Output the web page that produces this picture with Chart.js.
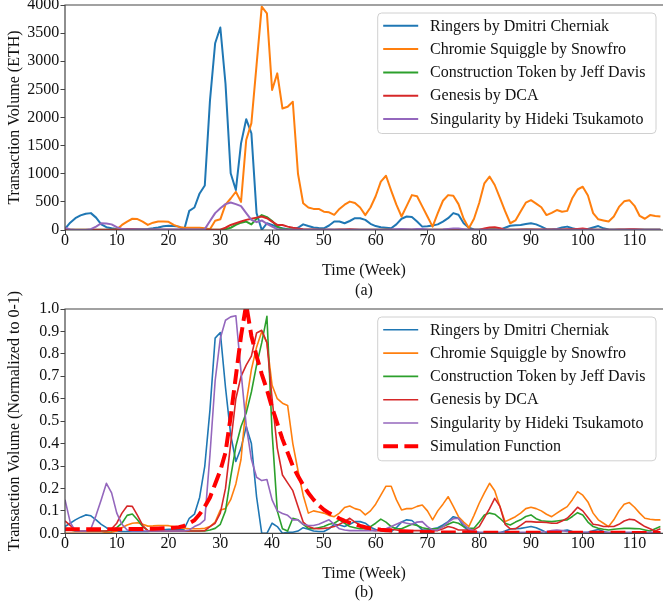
<!DOCTYPE html>
<html>
<head>
<meta charset="utf-8">
<script src="https://cdn.jsdelivr.net/npm/chart.js@4.4.1/dist/chart.umd.min.js"></script>
<style>
  html, body { margin: 0; padding: 0; background: #fff; overflow: hidden; }
  #wrap { position: relative; width: 663px; height: 606px; overflow: hidden; background: #fff; }
  #topChart { position: absolute; left: 0; top: -20px; }
  #botChart { position: absolute; left: 0; top: 270px; }
</style>
</head>
<body>
<div id="wrap">
  <canvas id="topChart" width="663" height="320"></canvas>
  <canvas id="botChart" width="663" height="336"></canvas>
</div>
<script>
// weeks 0..115
const WEEKS = Array.from({ length: 116 }, (_, i) => i);

const NAMES = [
  'Ringers by Dmitri Cherniak',
  'Chromie Squiggle by Snowfro',
  'Construction Token by Jeff Davis',
  'Genesis by DCA',
  'Singularity by Hideki Tsukamoto'
];
const SIM_NAME = 'Simulation Function';
const COLORS = ['#1f77b4', '#ff7f0e', '#2ca02c', '#d62728', '#9467bd'];

// (a) transaction volume, ETH
const TOP_RINGERS = [
  20, 130, 210, 260, 290, 300, 220, 100, 50, 30,
  20, 15, 15, 15, 15, 15, 20, 30, 45, 65,
  75, 70, 60, 0, 340, 400, 650, 790, 2300, 3320,
  3600, 2600, 1010, 710, 1540, 1970, 1720, 300, 0, 120,
  90, 50, 30, 15, 10, 40, 100, 70, 45, 35,
  30, 80, 150, 150, 120, 160, 210, 210, 180, 110,
  70, 50, 40, 30, 100, 200, 240, 230, 150, 60,
  65, 80, 100, 150, 210, 300, 270, 120, 40, 10,
  5, 5, 5, 5, 5, 40, 75, 85, 90, 105,
  120, 100, 60, 15, 10, 20, 45, 60, 30, 10,
  10, 20, 45, 70, 30, 8, 5, 5, 5, 5,
  5, 5, 5, 5, 5, 5
];
const TOP_CHROMIE = [
  0, 0, 0, 0, 0, 0, 0, 0, 0, 0,
  10, 90, 150, 200, 195, 150, 90, 130, 150, 150,
  145, 90, 55, 40, 40, 40, 40, 30, 15, 165,
  190, 450, 560, 680, 500, 1600, 1900, 2935, 3970, 3850,
  2490, 2785, 2160, 2190, 2280, 1000, 475, 400, 375, 375,
  325, 315, 270, 375, 450, 505, 480, 400, 265, 400,
  600, 860, 965, 700, 450, 240, 430, 620, 600, 420,
  240, 60, 300, 520, 620, 610, 460, 200, 30, 200,
  480, 830, 950, 800, 570, 335, 120, 170, 330, 485,
  530, 470, 405, 265, 305, 355, 325, 340, 570, 720,
  770, 615, 300, 190, 170, 150, 240, 410, 510, 530,
  430, 250, 200, 265, 250, 240
];
const TOP_CONSTRUCTION = [
  5, 3, 3, 3, 3, 3, 3, 3, 3, 3,
  3, 3, 5, 5, 5, 3, 3, 3, 3, 3,
  3, 3, 3, 3, 3, 3, 3, 3, 3, 3,
  5, 15, 40, 90, 130, 150, 100, 200, 265, 230,
  160, 60, 20, 15, 10, 8, 5, 5, 5, 5,
  5, 5, 5, 5, 5, 5, 5, 5, 5, 5,
  5, 5, 10, 5, 5, 5, 5, 5, 5, 5,
  5, 5, 5, 5, 5, 5, 5, 5, 5, 5,
  5, 10, 15, 15, 10, 5, 5, 5, 5, 10,
  10, 5, 5, 5, 5, 5, 5, 5, 10, 15,
  10, 5, 5, 5, 5, 5, 5, 5, 5, 5,
  5, 5, 5, 5, 5, 5
];
const TOP_GENESIS = [
  5, 3, 3, 3, 3, 3, 3, 3, 3, 3,
  5, 10, 15, 15, 10, 5, 3, 3, 3, 3,
  3, 3, 3, 3, 3, 3, 3, 3, 3, 3,
  5, 40, 90, 120, 150, 180, 200, 220, 240, 210,
  150, 90, 90, 60, 40, 25, 15, 10, 8, 5,
  5, 5, 5, 8, 10, 15, 10, 5, 5, 5,
  5, 5, 5, 5, 5, 5, 5, 5, 5, 5,
  5, 5, 5, 5, 8, 8, 5, 5, 5, 5,
  5, 25, 45, 50, 30, 5, 5, 5, 8, 10,
  10, 10, 10, 10, 10, 10, 10, 12, 15, 20,
  25, 15, 8, 5, 5, 5, 5, 8, 10, 12,
  12, 8, 5, 5, 5, 5
];
const TOP_SINGULARITY = [
  40, 10, 0, 0, 0, 15, 60, 120, 115, 100,
  50, 20, 8, 8, 8, 8, 8, 8, 8, 8,
  8, 8, 8, 8, 8, 8, 8, 15, 160, 300,
  385, 460, 490, 460, 425, 300, 180, 140, 170, 110,
  60, 15, 5, 5, 5, 5, 5, 5, 5, 5,
  5, 10, 5, 5, 5, 5, 5, 5, 5, 5,
  5, 5, 5, 10, 15, 20, 15, 10, 20, 20,
  10, 5, 5, 10, 20, 25, 25, 15, 5, 5,
  5, 5, 5, 5, 5, 5, 5, 5, 5, 5,
  5, 5, 5, 5, 5, 8, 5, 5, 5, 5,
  5, 5, 5, 5, 5, 5, 5, 5, 5, 5,
  5, 5, 5, 5, 5, 5
];

// (b) normalised volume
const BOT_RINGERS = [
  0.03, 0.045, 0.06, 0.072, 0.082, 0.078, 0.06, 0.04, 0.025, 0.012,
  0.01, 0.008, 0.008, 0.008, 0.008, 0.008, 0.008, 0.01, 0.012, 0.016,
  0.018, 0.018, 0.016, 0.018, 0.067, 0.085, 0.16, 0.3, 0.55, 0.87,
  0.895, 0.65, 0.44, 0.32, 0.38, 0.476, 0.4, 0.163, 0.0, 0.0,
  0.045, 0.03, 0.0, 0.005, 0.005, 0.01, 0.025, 0.018, 0.01, 0.008,
  0.008, 0.02, 0.04, 0.037, 0.03, 0.04, 0.052, 0.052, 0.045, 0.027,
  0.017, 0.012, 0.01, 0.008, 0.025, 0.05, 0.06, 0.057, 0.037, 0.015,
  0.016, 0.02, 0.025, 0.037, 0.052, 0.074, 0.067, 0.03, 0.01, 0.003,
  0.002, 0.002, 0.002, 0.002, 0.002, 0.01, 0.019, 0.021, 0.022, 0.026,
  0.03, 0.025, 0.015, 0.004, 0.003, 0.005, 0.011, 0.015, 0.008, 0.003,
  0.003, 0.005, 0.011, 0.017, 0.008, 0.002, 0.001, 0.001, 0.001, 0.001,
  0.001, 0.001, 0.001, 0.001, 0.001, 0.001
];
const BOT_CHROMIE = [
  0.0, 0.0, 0.0, 0.0, 0.0, 0.0, 0.0, 0.0, 0.003, 0.005,
  0.01, 0.025, 0.037, 0.045, 0.047, 0.04, 0.032, 0.033, 0.035, 0.035,
  0.034, 0.03, 0.026, 0.022, 0.02, 0.02, 0.02, 0.022, 0.03, 0.05,
  0.104, 0.11, 0.15, 0.22, 0.33, 0.58, 0.73, 0.83, 0.9, 0.85,
  0.66, 0.6, 0.58, 0.57, 0.4, 0.28, 0.17, 0.09, 0.1, 0.095,
  0.09, 0.08, 0.074, 0.09, 0.115, 0.122, 0.11, 0.104, 0.082, 0.1,
  0.13, 0.17, 0.21, 0.21, 0.15, 0.104, 0.11, 0.11, 0.12, 0.126,
  0.1, 0.06, 0.1, 0.13, 0.163, 0.12, 0.074, 0.05, 0.03, 0.08,
  0.134, 0.18, 0.223, 0.19, 0.12, 0.052, 0.063, 0.074, 0.09, 0.11,
  0.116, 0.11, 0.1, 0.085, 0.074, 0.09, 0.105, 0.119, 0.15, 0.186,
  0.17, 0.14, 0.09, 0.06, 0.045, 0.03, 0.06, 0.1, 0.13, 0.137,
  0.116, 0.09, 0.067, 0.063, 0.06, 0.06
];
const BOT_CONSTRUCTION = [
  0.022, 0.015, 0.01, 0.01, 0.01, 0.01, 0.01, 0.01, 0.01, 0.012,
  0.025, 0.045, 0.08, 0.086, 0.06, 0.03, 0.012, 0.01, 0.01, 0.01,
  0.01, 0.01, 0.01, 0.01, 0.01, 0.01, 0.01, 0.01, 0.015, 0.022,
  0.04, 0.1, 0.25, 0.387, 0.476, 0.536, 0.63, 0.75, 0.85, 0.967,
  0.45, 0.1, 0.02, 0.01, 0.067, 0.06, 0.04, 0.022, 0.02, 0.025,
  0.03, 0.04, 0.045, 0.06, 0.045, 0.03, 0.025, 0.02, 0.02, 0.03,
  0.045, 0.063, 0.05, 0.03, 0.02, 0.02, 0.03, 0.04, 0.035, 0.025,
  0.02, 0.02, 0.02, 0.03, 0.04, 0.05, 0.045, 0.03, 0.022, 0.022,
  0.05, 0.082, 0.09, 0.085, 0.067, 0.045, 0.037, 0.05, 0.06, 0.075,
  0.082, 0.065, 0.056, 0.054, 0.052, 0.055, 0.058, 0.06, 0.075, 0.092,
  0.082, 0.05, 0.03, 0.022, 0.018, 0.015, 0.018, 0.02, 0.022, 0.022,
  0.021, 0.02, 0.015, 0.01, 0.02, 0.03
];
const BOT_GENESIS = [
  0.055, 0.035, 0.015, 0.01, 0.01, 0.01, 0.01, 0.01, 0.01, 0.02,
  0.045, 0.09, 0.122, 0.12, 0.08, 0.035, 0.012, 0.01, 0.01, 0.01,
  0.01, 0.01, 0.01, 0.01, 0.01, 0.01, 0.01, 0.012, 0.03, 0.045,
  0.09, 0.2, 0.4, 0.6, 0.7, 0.75, 0.79, 0.893, 0.905, 0.85,
  0.6, 0.38, 0.26, 0.225, 0.19, 0.12, 0.05, 0.03, 0.022, 0.02,
  0.022, 0.025, 0.03, 0.04, 0.052, 0.067, 0.05, 0.037, 0.02, 0.015,
  0.012, 0.015, 0.02, 0.018, 0.015, 0.012, 0.012, 0.012, 0.012, 0.012,
  0.012, 0.012, 0.012, 0.02, 0.03, 0.025, 0.015, 0.015, 0.015, 0.015,
  0.03, 0.07, 0.11, 0.156, 0.12, 0.04, 0.02, 0.02, 0.035, 0.052,
  0.052, 0.05, 0.05, 0.048, 0.045, 0.045, 0.055, 0.067, 0.09, 0.116,
  0.1, 0.07, 0.04, 0.037, 0.03, 0.03, 0.03, 0.04, 0.055, 0.063,
  0.06, 0.045, 0.03, 0.02, 0.01, 0.02
];
const BOT_SINGULARITY = [
  0.15, 0.05, 0.01, 0.01, 0.01, 0.02, 0.08, 0.15, 0.223, 0.18,
  0.09, 0.04, 0.015, 0.01, 0.01, 0.01, 0.01, 0.01, 0.01, 0.01,
  0.01, 0.01, 0.01, 0.01, 0.015, 0.03, 0.04, 0.06, 0.35, 0.68,
  0.87, 0.95, 0.965, 0.97, 0.72, 0.48, 0.33, 0.25, 0.235, 0.24,
  0.149, 0.1, 0.088, 0.08, 0.06, 0.06, 0.04, 0.035, 0.035, 0.04,
  0.05, 0.06, 0.04, 0.02, 0.015, 0.012, 0.012, 0.012, 0.012, 0.012,
  0.012, 0.015, 0.02, 0.03, 0.04, 0.05, 0.045, 0.04, 0.05, 0.052,
  0.03, 0.015, 0.015, 0.03, 0.05, 0.065, 0.067, 0.04, 0.02, 0.01,
  0.005, 0.005, 0.005, 0.005, 0.005, 0.005, 0.005, 0.005, 0.005, 0.005,
  0.005, 0.005, 0.005, 0.008, 0.012, 0.015, 0.012, 0.008, 0.005, 0.005,
  0.005, 0.005, 0.005, 0.005, 0.005, 0.005, 0.005, 0.005, 0.005, 0.005,
  0.005, 0.005, 0.005, 0.005, 0.005, 0.005
];
const BOT_SIM = [
  0.018, 0.018, 0.018, 0.018, 0.018, 0.018, 0.018, 0.018, 0.018, 0.018,
  0.018, 0.018, 0.019, 0.019, 0.019, 0.019, 0.02, 0.02, 0.021, 0.022,
  0.023, 0.025, 0.027, 0.033, 0.045, 0.058, 0.085, 0.119, 0.16, 0.22,
  0.28, 0.36, 0.52, 0.7, 0.88, 1.02, 0.88, 0.79, 0.71, 0.64,
  0.56, 0.49, 0.42, 0.36, 0.3, 0.255, 0.215, 0.18, 0.15, 0.125,
  0.105, 0.09, 0.078, 0.066, 0.056, 0.047, 0.04, 0.033, 0.027, 0.022,
  0.019, 0.016, 0.014, 0.012, 0.01, 0.009, 0.008, 0.007, 0.006, 0.005,
  0.005, 0.004, 0.004, 0.004, 0.004, 0.004, 0.004, 0.004, 0.004, 0.004,
  0.003, 0.003, 0.003, 0.003, 0.003, 0.003, 0.003, 0.003, 0.003, 0.003,
  0.002, 0.002, 0.002, 0.002, 0.002, 0.002, 0.002, 0.002, 0.002, 0.002,
  0.002, 0.002, 0.002, 0.002, 0.002, 0.002, 0.002, 0.002, 0.002, 0.002,
  0.001, 0.001, 0.001, 0.001, 0.001, 0.001
];

const FONT_FAMILY = '"Liberation Serif", "Times New Roman", serif';
const TEXT = '#111';
const AXIS = '#444';

Chart.defaults.font.family = FONT_FAMILY;
Chart.defaults.font.size = 16;
Chart.defaults.color = TEXT;

const toPts = vals => WEEKS.map((w, i) => ({ x: w, y: vals[i] }));

function lineSet(label, vals, color, width, dash) {
  return {
    label,
    data: toPts(vals),
    borderColor: color,
    backgroundColor: color,
    borderWidth: width,
    borderDash: dash || [],
    borderJoinStyle: 'round',
    pointRadius: 0,
    tension: 0,
    clip: 0
  };
}

// frame, rotated y title and matplotlib-like legend box
const frameLegend = {
  id: 'frameLegend',
  afterDraw(chart, args, opts) {
    const { ctx, chartArea: a } = chart;
    ctx.save();
    ctx.strokeStyle = AXIS;
    ctx.lineWidth = 1.2;
    ctx.beginPath();
    ctx.moveTo(a.right + 2, a.top);
    ctx.lineTo(a.left, a.top);
    ctx.lineTo(a.left, a.bottom);
    ctx.lineTo(a.right + 2, a.bottom);
    ctx.stroke();

    ctx.fillStyle = TEXT;
    ctx.font = '16px ' + FONT_FAMILY;
    ctx.textAlign = 'center';
    ctx.textBaseline = 'middle';
    ctx.save();
    ctx.translate(15, (a.top + a.bottom) / 2);
    ctx.rotate(-Math.PI / 2);
    ctx.fillText(opts.yTitle, 0, 0);
    ctx.restore();

    const sets = chart.data.datasets;
    const rowH = 23.3;
    const w = 278.3;
    const h = 12.8 + (sets.length - 1) * rowH + 14.5;
    const x0 = a.right - 7 - w;
    const y0 = a.top + 8;
    ctx.beginPath();
    ctx.roundRect(x0, y0, w, h, 4);
    ctx.fillStyle = 'rgba(255,255,255,0.85)';
    ctx.fill();
    ctx.strokeStyle = '#d0d0d0';
    ctx.lineWidth = 1;
    ctx.stroke();

    ctx.textAlign = 'left';
    sets.forEach((ds, i) => {
      const y = y0 + 12.8 + i * rowH;
      ctx.beginPath();
      ctx.setLineDash(ds.borderDash || []);
      ctx.strokeStyle = ds.borderColor;
      ctx.lineWidth = ds.borderWidth;
      ctx.moveTo(x0 + 5.5, y);
      ctx.lineTo(x0 + 40.5, y);
      ctx.stroke();
      ctx.setLineDash([]);
      ctx.fillStyle = TEXT;
      ctx.fillText(ds.label, x0 + 52.3, y + 0.5);
    });
    ctx.restore();
  }
};

function makeChart(id, datasets, yCfg, xTitle, yTitle, pad, xAxisH) {
  datasets.forEach((d, i) => { d.order = -i; });
  return new Chart(document.getElementById(id), {
    type: 'line',
    data: { datasets },
    options: {
      responsive: false,
      animation: false,
      layout: { padding: pad },
      plugins: {
        legend: { display: false },
        tooltip: { enabled: false },
        frameLegend: { yTitle }
      },
      scales: {
        x: {
          type: 'linear',
          min: 0,
          max: 115.5,
          grid: { drawOnChartArea: false, drawTicks: true, tickLength: 4.5, tickColor: AXIS, tickWidth: 1 },
          border: { display: false },
          ticks: { stepSize: 10, includeBounds: false, padding: -3.5, maxRotation: 0, color: TEXT },
          title: { display: true, text: xTitle, padding: { top: 0, bottom: 0 }, color: TEXT },
          afterFit: s => { s.height = xAxisH; }
        },
        y: {
          min: yCfg.min,
          max: yCfg.max,
          grid: { drawOnChartArea: false, drawTicks: true, tickLength: 4.5, tickColor: AXIS, tickWidth: 1 },
          border: { display: false },
          ticks: { stepSize: yCfg.step, padding: 1.2, color: TEXT, callback: yCfg.fmt },
          afterFit: s => { s.width = 65; }
        }
      }
    },
    plugins: [frameLegend]
  });
}

const TOP_VALUES = [TOP_RINGERS, TOP_CHROMIE, TOP_CONSTRUCTION, TOP_GENESIS, TOP_SINGULARITY];
const BOT_VALUES = [BOT_RINGERS, BOT_CHROMIE, BOT_CONSTRUCTION, BOT_GENESIS, BOT_SINGULARITY];

makeChart(
  'topChart',
  TOP_VALUES.map((v, i) => lineSet(NAMES[i], v, COLORS[i], 2)),
  { min: 0, max: 4000, step: 500, fmt: v => String(v) },
  ['Time (Week)', '(a)'],
  'Transaction Volume (ETH)',
  { top: 25, bottom: 0, left: 0, right: 0 },
  70
);

makeChart(
  'botChart',
  BOT_VALUES.map((v, i) => lineSet(NAMES[i], v, COLORS[i], 1.6))
    .concat([lineSet(SIM_NAME, BOT_SIM, '#ff0000', 4, [14.8, 6.4])]),
  { min: 0, max: 1, step: 0.1, fmt: v => v.toFixed(1) },
  ['Time (Week)', '(b)'],
  'Transaction Volume (Normalized to 0-1)',
  { top: 39, bottom: 3.4, left: 0, right: 0 },
  69.3
);
</script>
</body>
</html>
